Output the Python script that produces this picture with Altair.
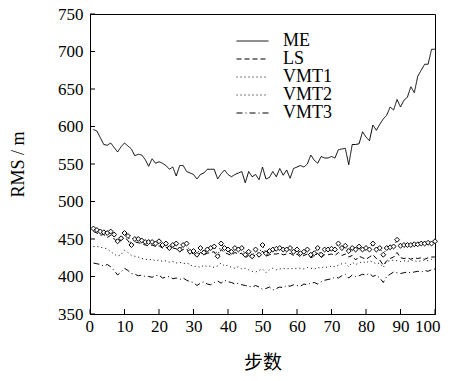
import altair as alt
import pandas as pd

steps = list(range(1, 101))
series_names = ["ME", "LS", "VMT1", "VMT2", "VMT3"]
x_ticks = list(range(0, 101, 10))
y_ticks = list(range(350, 751, 50))

me = [596, 594, 585, 576, 575, 578, 572, 566, 573, 578, 574, 570, 561, 563, 562, 556, 547, 557, 551, 553,
      551, 548, 543, 546, 534, 548, 548, 540, 538, 536, 530, 536, 538, 543, 543, 543, 530, 537, 542, 536,
      533, 536, 538, 540, 525, 540, 533, 536, 529, 546, 530, 532, 540, 533, 544, 535, 542, 531, 544, 546,
      548, 546, 550, 562, 555, 551, 560, 558, 558, 560, 558, 569, 570, 571, 549, 576, 576, 577, 593, 586,
      581, 602, 595, 603, 610, 615, 626, 622, 636, 626, 635, 639, 653, 645, 667, 675, 683, 683, 703, 703]
ls = [460, 458, 455, 456, 452, 455, 450, 446, 448, 452, 448, 440, 446, 445, 444, 442, 441, 442, 440, 441,
      438, 439, 436, 438, 437, 433, 436, 437, 430, 431, 427, 432, 429, 431, 432, 433, 425, 436, 432, 430,
      428, 432, 430, 431, 425, 428, 424, 430, 426, 434, 427, 429, 430, 430, 431, 429, 430, 431, 428, 430,
      426, 428, 430, 425, 427, 431, 425, 429, 429, 430, 428, 432, 428, 430, 426, 428, 422, 427, 425, 423,
      426, 429, 424, 422, 415, 421, 424, 426, 432, 425, 424, 425, 423, 425, 424, 425, 423, 425, 426, 426]
vmt1 = [464, 462, 460, 459, 458, 460, 456, 447, 451, 458, 454, 442, 450, 450, 448, 446, 446, 446, 444, 447,
        442, 444, 438, 442, 444, 436, 442, 444, 433, 434, 429, 438, 432, 436, 438, 440, 427, 444, 438, 436,
        433, 438, 436, 438, 429, 433, 427, 436, 429, 442, 431, 434, 436, 437, 438, 436, 436, 438, 433, 436,
        431, 433, 436, 429, 431, 438, 429, 436, 436, 437, 436, 444, 438, 441, 434, 438, 436, 440, 436, 438,
        436, 444, 436, 438, 429, 438, 439, 440, 449, 441, 442, 442, 442, 443, 443, 444, 444, 445, 444, 447]
vmt2 = [440, 440, 439, 438, 437, 433, 430, 427, 429, 435, 432, 428, 427, 426, 424, 423, 422, 423, 421, 422,
        420, 421, 419, 420, 418, 419, 417, 418, 416, 413, 414, 412, 415, 413, 414, 412, 414, 418, 414, 415,
        412, 411, 413, 410, 411, 409, 407, 406, 408, 410, 405, 409, 411, 409, 410, 411, 410, 411, 410, 411,
        411, 410, 412, 411, 410, 412, 411, 413, 412, 414, 413, 415, 417, 418, 413, 419, 416, 418, 420, 418,
        421, 419, 417, 418, 412, 420, 421, 422, 421, 420, 421, 420, 422, 421, 420, 421, 422, 421, 423, 422]
vmt3 = [418, 417, 416, 414, 416, 413, 408, 402, 406, 411, 408, 404, 403, 401, 402, 400, 400, 399, 401, 402,
        398, 399, 400, 397, 398, 396, 398, 395, 393, 392, 388, 391, 393, 390, 389, 392, 394, 391, 395, 393,
        392, 390, 391, 389, 388, 387, 386, 388, 386, 383, 384, 386, 382, 384, 386, 385, 388, 387, 389, 388,
        387, 390, 389, 391, 392, 390, 393, 395, 396, 397, 399, 398, 401, 403, 398, 402, 400, 401, 403, 402,
        404, 400, 402, 398, 392, 400, 403, 406, 405, 404, 405, 406, 405, 406, 407, 406, 408, 407, 409, 410]

rows = []
for name, vals in zip(series_names, [me, ls, vmt1, vmt2, vmt3]):
    for s, v in zip(steps, vals):
        rows.append({"step": s, "rms": v, "series": name})
df = pd.DataFrame(rows)
df_v1 = df[df["series"] == "VMT1"]
xt = pd.DataFrame({"step": x_ticks})
yt = pd.DataFrame({"rms": y_ticks})

W, H = 345, 300
SERIF = "Liberation Serif"
CJK = "Noto Sans CJK SC"
xscale = alt.Scale(domain=[0, 100], nice=False, zero=False)
yscale = alt.Scale(domain=[350, 750], nice=False, zero=False)
dash_scale = alt.Scale(domain=series_names,
                       range=[[1, 0], [5, 3], [1, 3], [1, 3], [6, 3, 1, 3]])

common_axis = dict(grid=False, ticks=False, tickSize=0, domainColor="black", domainWidth=1,
                   labelFont=SERIF, labelFontSize=17, labelColor="black", titleColor="black",
                   titleFontWeight="normal", labelOverlap=False)
x_axis = alt.Axis(values=x_ticks, title="步数", labelPadding=4, titlePadding=19,
                  titleFont=CJK, titleFontSize=19, labelFlush=True, labelFlushOffset=5,
                  **common_axis)
y_axis = alt.Axis(values=y_ticks, title="RMS / m", labelPadding=7, titlePadding=30,
                  titleFont=SERIF, titleFontSize=18, **common_axis)

lines = alt.Chart(df).mark_line(color="black", strokeWidth=1).encode(
    x=alt.X("step:Q", scale=xscale, axis=x_axis),
    y=alt.Y("rms:Q", scale=yscale, axis=y_axis),
    strokeDash=alt.StrokeDash("series:N", scale=dash_scale, sort=series_names,
                              legend=alt.Legend(title=None, orient="none", legendX=146, legendY=18,
                                                symbolType="stroke", symbolSize=1024,
                                                symbolStrokeWidth=1, symbolStrokeColor="black",
                                                labelFont=SERIF, labelFontSize=18, labelOffset=14,
                                                labelColor="black",
                                                clipHeight=18, rowPadding=0)),
)

points = alt.Chart(df_v1).mark_point(shape="diamond", filled=True, fill="white", stroke="black",
                                     strokeWidth=1, size=24, opacity=1).encode(
    x=alt.X("step:Q", scale=xscale, axis=x_axis),
    y=alt.Y("rms:Q", scale=yscale, axis=y_axis),
)

xtick = alt.Chart(xt).mark_rule(color="black", strokeWidth=1).encode(
    x=alt.X("step:Q", scale=xscale, axis=x_axis),
    y=alt.value(H), y2=alt.value(H - 5),
)
ytick = alt.Chart(yt).mark_rule(color="black", strokeWidth=1).encode(
    y=alt.Y("rms:Q", scale=yscale, axis=y_axis),
    x=alt.value(0), x2=alt.value(5),
)

chart = alt.layer(lines, points, xtick, ytick).properties(
    width=W, height=H,
    background="white",
    autosize=alt.AutoSizeParams(type="none"),
    padding={"left": 82, "top": 6, "right": 7, "bottom": 59},
).configure_view(stroke="black", strokeWidth=1).configure_axis(
    labelFont=SERIF, titleFont=SERIF
).configure_axisX(titleFont=CJK)

chart.save("out.html", embed_options={"renderer": "svg", "actions": False})
